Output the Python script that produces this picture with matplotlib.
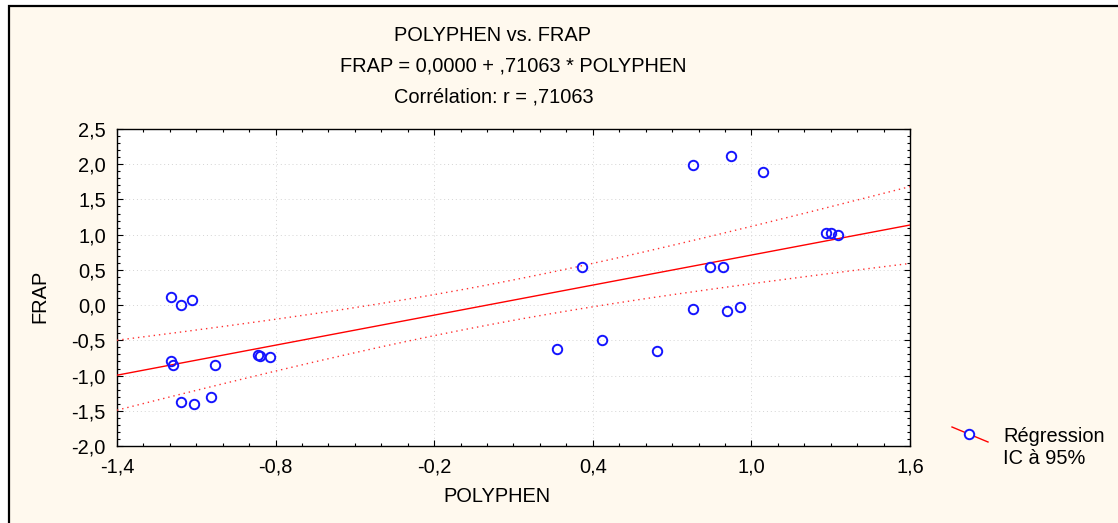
import numpy as np
import matplotlib
matplotlib.use("Agg")
import matplotlib.pyplot as plt
from matplotlib.lines import Line2D
from matplotlib.patches import Rectangle
from matplotlib.ticker import MultipleLocator, FixedLocator

# ---------------- data ----------------
polyphen = [-1.197, -1.158, -1.117, -1.197, -1.189, -1.028, -0.868, -0.860,
            -0.821, -1.158, -1.110, -1.046,
            0.779, 0.924, 1.044, 1.284, 1.300, 1.327, 0.360, 0.842, 0.892,
            0.779, 0.907, 0.955, 0.266, 0.434, 0.642]
frap = [0.114, 0.000, 0.075, -0.790, -0.850, -0.850, -0.710, -0.720,
        -0.740, -1.380, -1.410, -1.310,
        1.990, 2.110, 1.885, 1.020, 1.020, 0.990, 0.535, 0.535, 0.535,
        -0.050, -0.080, -0.030, -0.620, -0.490, -0.650]
intercept = 0.0
slope = 0.71063
t_crit = 2.0595  # t(0.975, df=25)

xticks = [-1.4, -0.8, -0.2, 0.4, 1.0, 1.6]
xticklabels = ["-1,4", "-0,8", "-0,2", "0,4", "1,0", "1,6"]
yticks = [2.5, 2.0, 1.5, 1.0, 0.5, 0.0, -0.5, -1.0, -1.5, -2.0]
yticklabels = ["2,5", "2,0", "1,5", "1,0", "0,5", "0,0", "-0,5", "-1,0", "-1,5", "-2,0"]

title_lines = ["POLYPHEN vs. FRAP",
               "FRAP = 0,0000 + ,71063 * POLYPHEN",
               "Corrélation: r = ,71063"]
legend_lines = ["Régression", "IC à 95%"]

# ---------------- figure ----------------
W, H = 1118, 523
DPI = 100
plt.rcParams['font.family'] = ['Liberation Sans', 'DejaVu Sans']
FS = 14.4

fig = plt.figure(figsize=(W / DPI, H / DPI), dpi=DPI, facecolor='white')

def fx(px):
    return px / W

def fy(py):
    return 1 - py / H

# cream frame with black border (top/left visible)
fig.add_artist(Rectangle((fx(9), -0.2), 1.5, fy(6) + 0.2, transform=fig.transFigure,
                         facecolor='#FFF9EE', edgecolor='black', linewidth=1.6,
                         zorder=-10))

ax = fig.add_axes([fx(117), fy(446), fx(910) - fx(117), fy(129) - fy(446)])
ax.set_facecolor('white')

x = np.array(polyphen)
y = np.array(frap)
n = len(x)
xbar = x.mean()
sxx = np.sum((x - xbar) ** 2)
resid = y - (intercept + slope * x)
s = np.sqrt(np.sum(resid ** 2) / (n - 2))

xg = np.linspace(-1.4, 1.6, 300)
yg = intercept + slope * xg
half = t_crit * s * np.sqrt(1.0 / n + (xg - xbar) ** 2 / sxx)

ax.plot(xg, yg, color='#ff0000', lw=1.0, zorder=3)
ax.plot(xg, yg + half, color='#ff3030', lw=1.0, ls=(0, (1, 2.8)), zorder=3)
ax.plot(xg, yg - half, color='#ff3030', lw=1.0, ls=(0, (1, 2.8)), zorder=3)
ax.plot(x, y, ls='none', marker='o', markersize=6.8, markerfacecolor='none',
        markeredgecolor='#1414ff', markeredgewidth=1.4, zorder=4)

ax.set_xlim(-1.4, 1.6)
ax.set_ylim(-2.0, 2.5)
ax.xaxis.set_major_locator(FixedLocator(xticks))
ax.set_xticklabels(xticklabels)
ax.yaxis.set_major_locator(FixedLocator(yticks))
ax.set_yticklabels(yticklabels)
ax.xaxis.set_minor_locator(MultipleLocator(0.1))
ax.yaxis.set_minor_locator(MultipleLocator(0.1))
ax.tick_params(which='both', direction='in', top=True, right=True,
               labelsize=FS, colors='black', width=0.8)
ax.tick_params(which='major', length=4.5, pad=8)
ax.tick_params(which='minor', length=2.5)
ax.grid(True, which='major', color='#d4d4d4', lw=0.7, ls=(0, (1, 3)))
ax.set_axisbelow(True)
for sp in ax.spines.values():
    sp.set_linewidth(1.0)
    sp.set_color('black')

# titles
fig.text(fx(493), fy(41), title_lines[0], ha='center', va='baseline', fontsize=FS)
fig.text(fx(513), fy(71.5), title_lines[1], ha='center', va='baseline', fontsize=FS)
fig.text(fx(494), fy(102.5), title_lines[2], ha='center', va='baseline', fontsize=FS)

# axis labels
fig.text(fx(497), fy(497), "POLYPHEN", ha='center', va='center', fontsize=FS)
fig.text(fx(40), fy(296), "FRAP", ha='center', va='center', rotation=90, fontsize=FS)

# legend (slanted line symbol)
fig.add_artist(Line2D([fx(952), fx(988)], [fy(427), fy(442)], transform=fig.transFigure,
                      color='#ff0000', lw=1.0))
fig.add_artist(Line2D([fx(969)], [fy(434)], transform=fig.transFigure, ls='none',
                      marker='o', markersize=6.8, markerfacecolor='white',
                      markeredgecolor='#1414ff', markeredgewidth=1.4))
fig.text(fx(1003), fy(436), legend_lines[0], ha='left', va='center', fontsize=FS)
fig.text(fx(1003), fy(458), legend_lines[1], ha='left', va='center', fontsize=FS)

fig.savefig("out.png", dpi=DPI, facecolor='white')
